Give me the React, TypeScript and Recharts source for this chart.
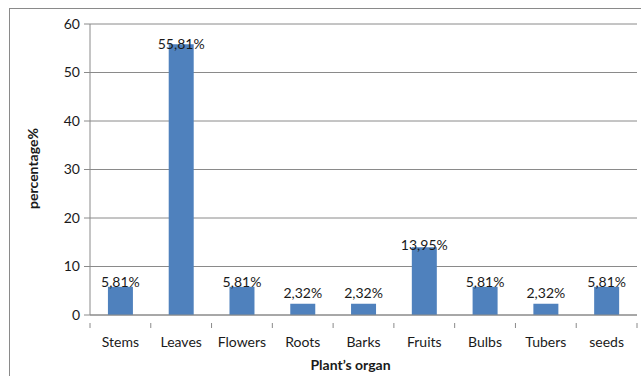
import React from 'react';
import { BarChart, Bar, XAxis, YAxis, CartesianGrid, LabelList, Label } from 'recharts';

// Share of plant organs used, in percent
const organs = ['Stems', 'Leaves', 'Flowers', 'Roots', 'Barks', 'Fruits', 'Bulbs', 'Tubers', 'seeds'];
const percentages = [5.81, 55.81, 5.81, 2.32, 2.32, 13.95, 5.81, 2.32, 5.81];
const yTicks = [0, 10, 20, 30, 40, 50, 60];

const data = organs.map((organ, i) => ({ organ, value: percentages[i] }));

const FONT = 'Lato, "Open Sans", "DejaVu Sans", sans-serif';
const AXIS_GRAY = '#8a8a8a';
const BAR_BLUE = '#4f81bd';

const formatPct = (v: number) => v.toFixed(2).replace('.', ',') + '%';

// Category tick: label centred under the bar, tick marks on the category boundaries
const CategoryTick = (props: any) => {
  const { x, y, payload, index, visibleTicksCount } = props;
  const band = 547 / organs.length;
  const half = band / 2;
  return (
    <g>
      <line x1={x - half} y1={y} x2={x - half} y2={y + 5} stroke={AXIS_GRAY} strokeWidth={1} />
      {index === visibleTicksCount - 1 && (
        <line x1={x + half} y1={y} x2={x + half} y2={y + 5} stroke={AXIS_GRAY} strokeWidth={1} />
      )}
      <text x={x} y={y + 24} textAnchor="middle" fontFamily={FONT} fontSize={14} fill="#1a1a1a">
        {payload.value}
      </text>
    </g>
  );
};

// Value label sitting on the bar end; short bars get their label lifted clear of the bar
const ValueLabel = (props: any) => {
  const { x, y, width, height, value } = props;
  const lift = Math.min(11, 1 + 110 / Math.max(height, 1));
  const cy = height > 200 ? y : y - lift;
  return (
    <text
      x={x + width / 2}
      y={cy}
      dy="0.36em"
      textAnchor="middle"
      fontFamily={FONT}
      fontSize={14}
      fill="#1a1a1a"
    >
      {formatPct(value)}
    </text>
  );
};

export default function App() {
  return (
    <div
      style={{
        position: 'absolute',
        left: 0,
        top: 0,
        width: 641,
        height: 376,
        overflow: 'hidden',
        background: '#ffffff',
      }}
    >
      <div
        style={{
          position: 'absolute',
          left: 9,
          top: 8,
          width: 700,
          height: 420,
          border: `1px solid ${AXIS_GRAY}`,
          boxSizing: 'border-box',
        }}
      />
      <div style={{ position: 'absolute', left: 0, top: 0 }}>
        <BarChart
          width={641}
          height={376}
          data={data}
          margin={{ top: 24, right: 4, bottom: 21, left: 0 }}
          barCategoryGap="29.5%"
        >
          <CartesianGrid horizontal vertical={false} stroke={AXIS_GRAY} strokeWidth={1} />
          <XAxis
            dataKey="organ"
            height={40}
            interval={0}
            axisLine={{ stroke: AXIS_GRAY, strokeWidth: 1 }}
            tickLine={false}
            tick={<CategoryTick />}
          >
            <Label
              content={(p: any) => {
                const vb = p.viewBox;
                return (
                  <text
                    x={vb.x + vb.width / 2 - 13}
                    y={370}
                    textAnchor="middle"
                    fontFamily={FONT}
                    fontSize={14}
                    fontWeight="bold"
                    fill="#1a1a1a"
                  >
                    Plant’s organ
                  </text>
                );
              }}
            />
          </XAxis>
          <YAxis
            width={90}
            domain={[0, 60]}
            ticks={yTicks}
            interval={0}
            axisLine={{ stroke: AXIS_GRAY, strokeWidth: 1 }}
            tickLine={{ stroke: AXIS_GRAY, strokeWidth: 1 }}
            tickSize={6}
            tickMargin={4}
            tick={{ fontFamily: FONT, fontSize: 14, fill: '#1a1a1a' }}
          >
            <Label
              content={(p: any) => {
                const vb = p.viewBox;
                const cx = 33;
                const cy = vb.y + vb.height / 2 - 1;
                return (
                  <text
                    x={cx}
                    y={cy}
                    dy="0.35em"
                    textAnchor="middle"
                    transform={`rotate(-90, ${cx}, ${cy})`}
                    fontFamily={FONT}
                    fontSize={14}
                    fontWeight="bold"
                    fill="#1a1a1a"
                  >
                    percentage%
                  </text>
                );
              }}
            />
          </YAxis>
          <Bar dataKey="value" fill={BAR_BLUE} isAnimationActive={false}>
            <LabelList dataKey="value" content={<ValueLabel />} />
          </Bar>
        </BarChart>
      </div>
    </div>
  );
}
